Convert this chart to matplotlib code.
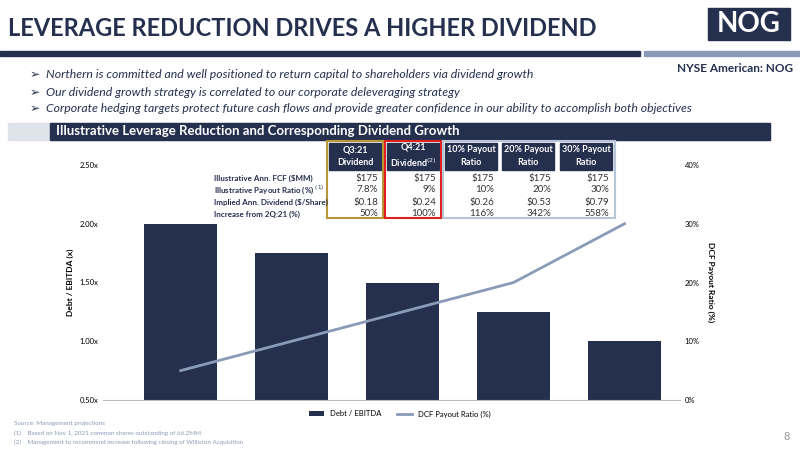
import matplotlib.pyplot as plt
from matplotlib.patches import Rectangle

plt.rcParams['font.family'] = ['Lato', 'DejaVu Sans']

NAVY = '#25304f'
categories = ['Q3:21', 'Q4:21', '10%', '20%', '30%']
debt_ebitda = [2.00, 1.75, 1.50, 1.25, 1.00]
payout_ratio = [5, 10, 15, 20, 30]

col_heads = ['Q3:21\nDividend', 'Q4:21\nDividend$^{(2)}$', '10% Payout\nRatio', '20% Payout\nRatio', '30% Payout\nRatio']
row_labels = ['Illustrative Ann. FCF ($MM)', 'Illustrative Payout Ratio (%) $^{(1)}$',
              'Implied Ann. Dividend ($/Share)', 'Increase from 2Q:21 (%)']
table_vals = [['$175', '$175', '$175', '$175', '$175'],
              ['7.8%', '9%', '10%', '20%', '30%'],
              ['$0.18', '$0.24', '$0.26', '$0.53', '$0.79'],
              ['50%', '100%', '116%', '342%', '558%']]
bullets = ['Northern is committed and well positioned to return capital to shareholders via dividend growth',
           'Our dividend growth strategy is correlated to our corporate deleveraging strategy',
           'Corporate hedging targets protect future cash flows and provide greater confidence in our ability to accomplish both objectives']

fig = plt.figure(figsize=(8, 4.5), dpi=100)
W, H = 800, 450
def fx(x): return x / W
def fy(y): return 1 - y / H

# header
fig.text(fx(8), fy(36), 'LEVERAGE REDUCTION DRIVES A HIGHER DIVIDEND', fontsize=17, fontweight='bold', color=NAVY)
fig.add_artist(Rectangle((fx(0), fy(56)), fx(640), 5 / H, color=NAVY, transform=fig.transFigure))
fig.add_artist(Rectangle((fx(644), fy(56)), fx(156), 5 / H, color='#8a9bb8', transform=fig.transFigure))
fig.add_artist(Rectangle((fx(708), fy(40)), fx(82), 32 / H, color=NAVY, transform=fig.transFigure))
fig.text(fx(749), fy(24), 'NOG', fontsize=20, fontweight='bold', color='white', ha='center', va='center')
fig.text(fx(793), fy(68), 'NYSE American: NOG', fontsize=8.5, fontweight='bold', color=NAVY, ha='right', va='center')
for i, b in enumerate(bullets):
    fig.text(fx(30), fy(75 + 17 * i), '\u27a2  ' + b, fontsize=8.8, style='italic', color=NAVY, va='center')
fig.add_artist(Rectangle((fx(8), fy(140)), fx(762), 17 / H, color='#dfe3ea', transform=fig.transFigure))
fig.add_artist(Rectangle((fx(50), fy(140)), fx(720), 17 / H, color=NAVY, transform=fig.transFigure))
fig.text(fx(56), fy(131), 'Illustrative Leverage Reduction and Corresponding Dividend Growth', fontsize=9.5,
         fontweight='bold', color='white', va='center')

# chart
ax = fig.add_axes([fx(103), fy(400), fx(680 - 103), (400 - 165) / H])
x = range(len(categories))
ax.bar(x, [v - 0.5 for v in debt_ebitda], bottom=0.5, width=0.66, color=NAVY, label='Debt / EBITDA')
ax.set_ylim(0.5, 2.5)
ax.set_xlim(-0.7, 4.5)
ax.set_yticks([0.5, 1.0, 1.5, 2.0, 2.5])
ax.set_yticklabels(['0.50x', '1.00x', '1.50x', '2.00x', '2.50x'])
ax.set_xticks([])
ax.set_ylabel('Debt / EBITDA (x)', fontsize=6, fontweight='bold')
ax2 = ax.twinx()
ax2.plot(x, payout_ratio, color='#8a9bb8', lw=2, label='DCF Payout Ratio (%)')
ax2.set_ylim(0, 40)
ax2.set_yticks([0, 10, 20, 30, 40])
ax2.set_yticklabels(['0%', '10%', '20%', '30%', '40%'])
ax2.set_ylabel('DCF Payout Ratio (%)', fontsize=6, fontweight='bold', rotation=270, labelpad=10)
for a in (ax, ax2):
    a.tick_params(labelsize=5.5, length=0)
    for s in a.spines.values():
        s.set_visible(False)
ax.spines['bottom'].set_visible(True)
ax.spines['bottom'].set_color('#bbbbbb')
h1, l1 = ax.get_legend_handles_labels()
h2, l2 = ax2.get_legend_handles_labels()
fig.legend(h1 + h2, l1 + l2, loc='center', bbox_to_anchor=(fx(400), fy(414)), ncol=2, frameon=False, fontsize=5.5)

# table
col_x = [355, 413, 471, 528, 586]
col_w = 52
for j, head in enumerate(col_heads):
    fig.add_artist(Rectangle((fx(col_x[j] - col_w / 2), fy(170)), col_w / W, 27 / H, color=NAVY, transform=fig.transFigure))
    fig.text(fx(col_x[j]), fy(156), head, fontsize=6.5, fontweight='bold', color='white', ha='center', va='center',
             linespacing=1.5)
    for i in range(4):
        fig.text(fx(col_x[j] + col_w / 2 - 3), fy(178 + 12 * i), table_vals[i][j], fontsize=7, color='#333333',
                 ha='right', va='center')
for i, r in enumerate(row_labels):
    fig.text(fx(214), fy(178 + 12 * i), r, fontsize=5.8, fontweight='bold', color=NAVY, va='center')
boxes = [(col_x[0] - 28, col_x[0] + 28, '#b8963a'), (col_x[1] - 28, col_x[1] + 28, '#e02020'),
         (col_x[2] - 28, col_x[4] + 29, '#b8c4d8')]
for x0, x1, c in boxes:
    fig.add_artist(Rectangle((fx(x0), fy(218)), (x1 - x0) / W, 77 / H, fill=False, ec=c, lw=1.5,
                             transform=fig.transFigure))

# footnotes
fn = ['Source: Management projections', '(1)    Based on Nov 1, 2021 common shares outstanding of 66.2MM',
      '(2)    Management to recommend increase following closing of Williston Acquisition']
for i, t in enumerate(fn):
    fig.text(fx(14), fy(424 + 9 * i), t, fontsize=4.5, color='#8a9bb8', va='center')
fig.text(fx(790), fy(437), '8', fontsize=8, color='#999999', ha='right', va='center')

fig.savefig('out.png', dpi=100)
